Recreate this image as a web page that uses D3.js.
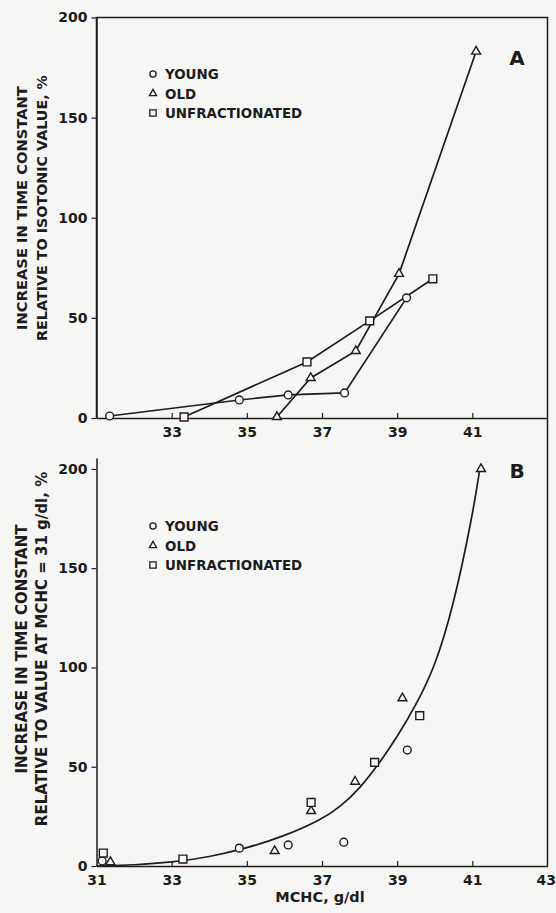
<!DOCTYPE html>
<html>
<head>
<meta charset="utf-8">
<script src="https://cdn.jsdelivr.net/npm/d3@7"></script>
<style>
  html, body { margin: 0; padding: 0; background: #f6f6f4; }
  svg { display: block; }
  text { font-family: "DejaVu Sans", "Liberation Sans", Arial, sans-serif; font-weight: bold; fill: #1c1c1c; }
</style>
</head>
<body>
<svg id="chart" width="556" height="913"></svg>
<script>
// ---------- data ----------
const seriesNames = ["YOUNG", "OLD", "UNFRACTIONATED"];
const xTicksA = [33, 35, 37, 39, 41];
const xTicksB = [31, 33, 35, 37, 39, 41, 43];
const yTicks = [0, 50, 100, 150, 200];

// Panel A: increase relative to isotonic value (%)
const youngA = [[31.35, 1], [34.8, 9], [36.1, 11.5], [37.6, 12.5], [39.25, 60]];
const oldA = [[35.8, 0.5], [36.7, 20], [37.9, 33.5], [39.05, 72], [41.1, 183]];
const unfracA = [[33.33, 0.5], [36.6, 28], [38.27, 48.5], [39.95, 69.5]];

// Panel B: increase relative to value at MCHC = 31 g/dl (%)
const youngB = [[31.15, 2.5], [34.8, 9], [36.1, 10.6], [37.58, 12], [39.27, 58.4]];
const oldB = [[31.37, 2], [35.74, 7.6], [36.71, 27.7], [37.88, 42.5], [39.14, 84.5], [41.23, 200]];
const unfracB = [[31.18, 6.5], [33.3, 3.5], [36.71, 32], [38.4, 52.2], [39.6, 75.7]];
// fitted curve in panel B
const curveB = [[31, 0], [32, 0.5], [33, 1.8], [34, 4.5], [35, 9], [36, 15], [37, 23.5], [37.5, 30],
                [38, 39], [38.5, 51], [39, 65], [39.5, 81], [40, 100], [40.5, 131], [41, 176], [41.2, 200]];

// ---------- layout ----------
const svg = d3.select("#chart");
const ink = "#1c1c1c";
const bg = "#f6f6f4";
const L = 96.5, R = 547.5;

const x = d3.scaleLinear().domain([31, 43]).range([L, R]);
const yA = d3.scaleLinear().domain([0, 200]).range([418, 17.5]);
const yB = d3.scaleLinear().domain([0, 205.5]).range([866, 458]);

// frame lines
svg.append("path")
  .attr("d", `M${L},${yA(0)} V${yA(200)} H${R} V${yB(0)}`)
  .attr("fill", "none").attr("stroke", ink).attr("stroke-width", 1.5);

function drawAxes(yScale, xTicks) {
  const gx = svg.append("g").attr("transform", `translate(0,${yScale(0)})`)
    .call(d3.axisBottom(x).tickValues(xTicks).tickSizeInner(-5).tickSizeOuter(0).tickPadding(9).tickFormat(d3.format("d")));
  gx.select(".domain").attr("stroke", ink).attr("stroke-width", 1.5);
  gx.selectAll(".tick line").attr("stroke", ink).attr("stroke-width", 1.2);
  gx.selectAll(".tick text").style("font-size", "14px").attr("fill", ink);
  gx.selectAll(".tick").filter(d => d === 31 || d === 43).select("line").remove();
  gx.selectAll(".tick").filter(d => d === 43).select("text").attr("text-anchor", "end").attr("dx", 8);

  const gy = svg.append("g").attr("transform", `translate(${L},0)`)
    .call(d3.axisLeft(yScale).tickValues(yTicks).tickSizeInner(5).tickSizeOuter(0).tickPadding(4).tickFormat(d3.format("d")));
  gy.select(".domain").attr("stroke", ink).attr("stroke-width", 1.5);
  gy.selectAll(".tick line").attr("stroke", ink).attr("stroke-width", 1.2);
  gy.selectAll(".tick text").style("font-size", "14px").attr("fill", ink);
}
drawAxes(yA, xTicksA);
drawAxes(yB, xTicksB);

// markers
const sym = {
  YOUNG: d3.symbol(d3.symbolCircle, 48),
  OLD: d3.symbol(d3.symbolTriangle, 34),
  UNFRACTIONATED: d3.symbol(d3.symbolSquare, 62)
};
const symSmall = {
  YOUNG: d3.symbol(d3.symbolCircle, 30),
  OLD: d3.symbol(d3.symbolTriangle, 22),
  UNFRACTIONATED: d3.symbol(d3.symbolSquare, 40)
};

function drawPoints(data, name, yScale) {
  svg.append("g").selectAll("path").data(data).join("path")
    .attr("transform", d => `translate(${x(d[0])},${yScale(d[1])})`)
    .attr("d", sym[name]())
    .attr("fill", bg).attr("stroke", ink).attr("stroke-width", 1.4);
}
function drawLine(data, yScale) {
  svg.append("path").datum(data)
    .attr("d", d3.line().x(d => x(d[0])).y(d => yScale(d[1])))
    .attr("fill", "none").attr("stroke", ink).attr("stroke-width", 1.7);
}

// Panel A
[youngA, oldA, unfracA].forEach(s => drawLine(s, yA));
drawPoints(youngA, "YOUNG", yA);
drawPoints(oldA, "OLD", yA);
drawPoints(unfracA, "UNFRACTIONATED", yA);

// Panel B
svg.append("path").datum(curveB)
  .attr("d", d3.line().x(d => x(d[0])).y(d => yB(d[1])).curve(d3.curveBasis))
  .attr("fill", "none").attr("stroke", ink).attr("stroke-width", 1.7);
drawPoints(youngB, "YOUNG", yB);
drawPoints(oldB, "OLD", yB);
drawPoints(unfracB, "UNFRACTIONATED", yB);

// legends
function legend(top) {
  seriesNames.forEach((n, i) => {
    const yy = top + i * 19.5;
    svg.append("path").attr("transform", `translate(153,${yy})`).attr("d", symSmall[n]())
      .attr("fill", bg).attr("stroke", ink).attr("stroke-width", 1.3);
    svg.append("text").attr("x", 165).attr("y", yy + 5).style("font-size", "13.4px").text(n);
  });
}
legend(74);
legend(526);

// panel letters
svg.append("text").attr("x", 517).attr("y", 65).attr("text-anchor", "middle").style("font-size", "20px").text("A");
svg.append("text").attr("x", 517).attr("y", 478).attr("text-anchor", "middle").style("font-size", "20px").text("B");

// axis titles
function ytitle(lines, cy, sizes) {
  lines.forEach((t, i) => {
    svg.append("text")
      .attr("transform", `translate(${27 + i * 20},${cy}) rotate(-90)`)
      .attr("text-anchor", "middle").style("font-size", sizes[i] + "px").text(t);
  });
}
ytitle(["INCREASE IN TIME CONSTANT", "RELATIVE TO ISOTONIC VALUE, %"], 208, [14.7, 14.3]);
ytitle(["INCREASE IN TIME CONSTANT", "RELATIVE TO VALUE AT MCHC = 31 g/dl, %"], 649, [15, 15]);

svg.append("text").attr("x", 320).attr("y", 902).attr("text-anchor", "middle").style("font-size", "14.5px").text("MCHC, g/dl");
</script>
</body>
</html>
